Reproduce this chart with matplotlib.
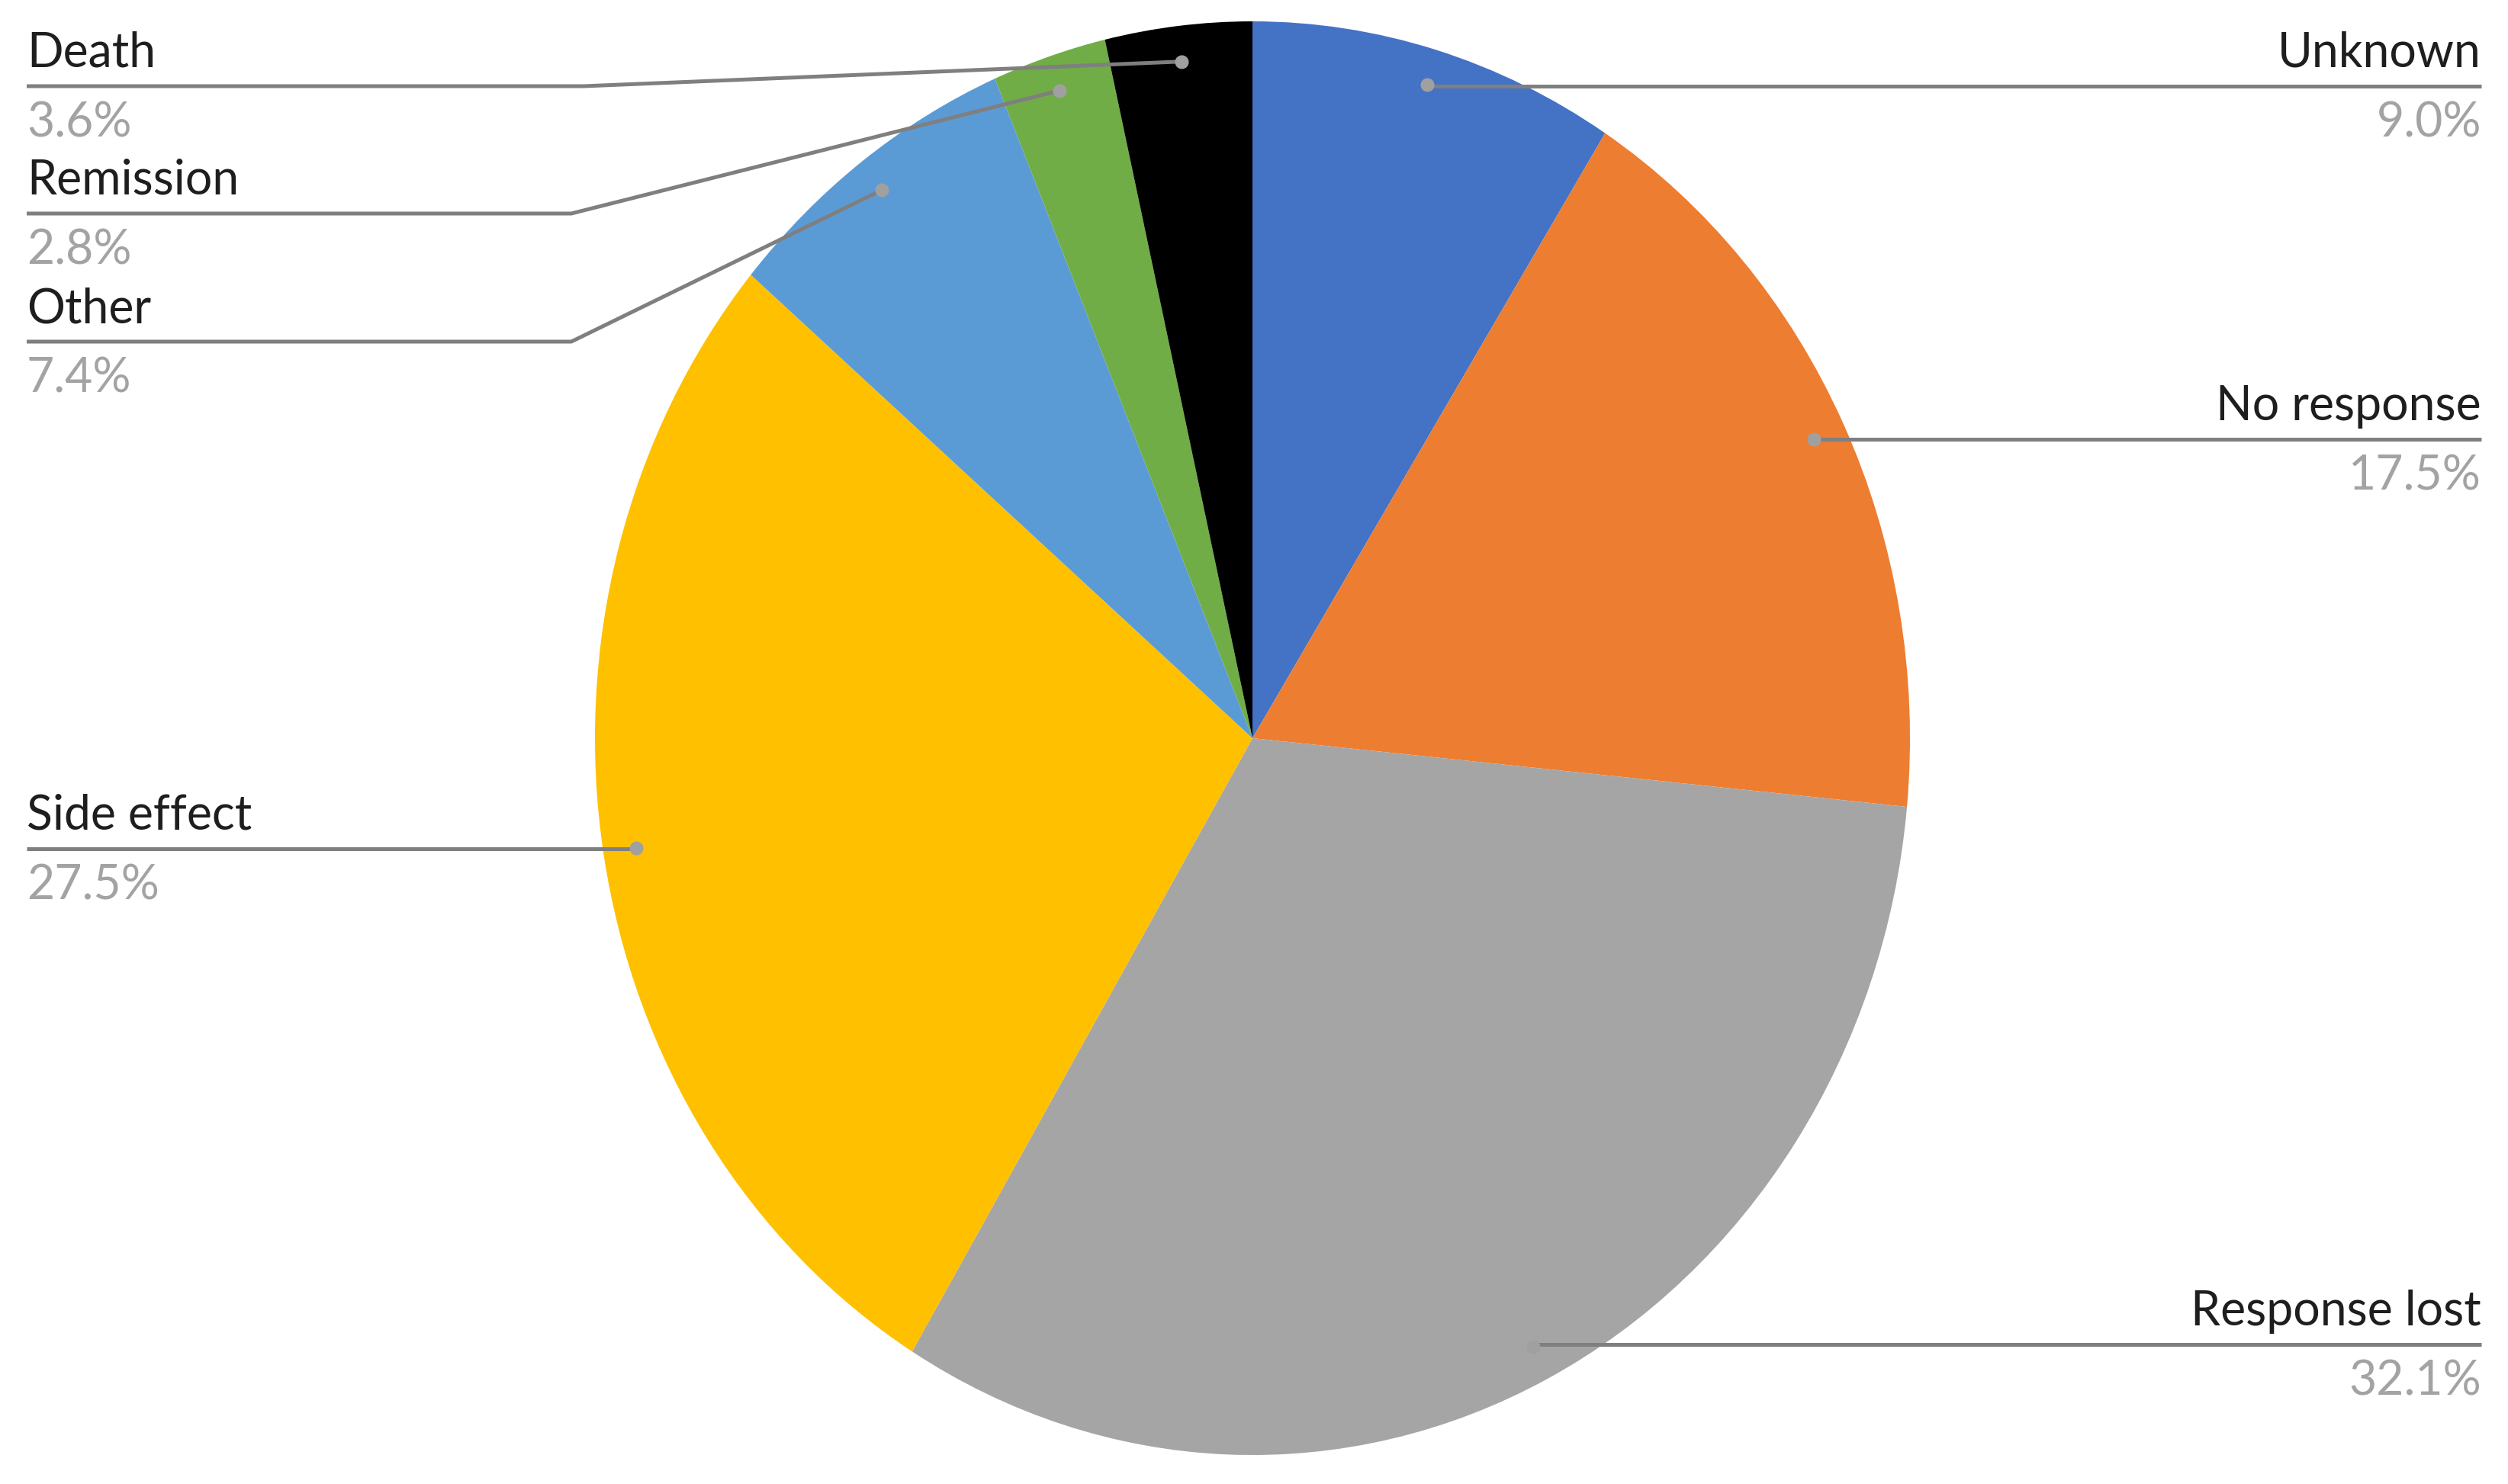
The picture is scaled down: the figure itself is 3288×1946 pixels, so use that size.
import numpy as np
import matplotlib
matplotlib.use("Agg")
import matplotlib.pyplot as plt

# ---------------------------------------------------------
# Datos
# ---------------------------------------------------------
categorias = ["Unknown", "No response", "Response lost", "Side effect",
              "Other", "Remission", "Death"]
porcentajes = [9.0, 17.5, 32.1, 27.5, 7.4, 2.8, 3.6]
colores = ["#4472C4", "#ED7D31", "#A5A5A5", "#FFC000",
           "#5B9BD5", "#70AD47", "#000000"]

# ---------------------------------------------------------
# Layout (pixeles de la imagen final 3288x1946)
# ---------------------------------------------------------
W, H = 3288, 1946
cx, cy = 1642, 968      # centro del pastel
rx, ry = 862, 940       # radios (la imagen viene algo estirada)

# lado, altura de la linea guia, x del codo
etiquetas = {
    "Unknown":       ("right", 113, None),
    "No response":   ("right", 576, None),
    "Response lost": ("right", 1763, None),
    "Side effect":   ("left", 1113, None),
    "Other":         ("left", 448, 749),
    "Remission":     ("left", 280, 749),
    "Death":         ("left", 113, 765),
}
x_izq, x_der = 35, 3253

plt.rcParams["font.family"] = ["Lato", "DejaVu Sans"]

fig = plt.figure(figsize=(W / 100, H / 100), dpi=100)
ax = fig.add_axes([0, 0, 1, 1])
ax.axis("off")


def px(x, y):
    return (x - cx) / rx, (cy - y) / ry


wedges, _ = ax.pie(porcentajes, colors=colores, startangle=90,
                   counterclock=False, radius=1, center=(0, 0),
                   wedgeprops=dict(linewidth=0))
ax.set_xlim(-cx / rx, (W - cx) / rx)
ax.set_ylim(-(H - cy) / ry, cy / ry)
ax.set_aspect("auto")

total = sum(porcentajes)
acum = 0.0
for cat, val in zip(categorias, porcentajes):
    medio = (acum + val / 2) / total * 2 * np.pi
    acum += val
    # punto dentro de la rebanada (mismo angulo, 95% del radio)
    dx = 0.95 * np.sin(medio)
    dy = 0.95 * np.cos(medio)
    lado, ly, codo = etiquetas[cat]
    lx_y = (cy - ly) / ry
    borde = px(x_izq if lado == "left" else x_der, ly)[0]
    if codo is not None:
        xs = [dx, (codo - cx) / rx, borde]
        ys = [dy, lx_y, lx_y]
    else:
        xs = [dx, borde]
        ys = [lx_y, lx_y]
    ax.plot(xs, ys, color="#7f7f7f", lw=3.6, solid_capstyle="butt", zorder=3)
    ax.plot([dx], [dy], "o", color="#a0a0a0", ms=12, zorder=4)

    ha = "left" if lado == "left" else "right"
    tx = borde
    ax.text(tx, (cy - (ly - 25)) / ry, cat, ha=ha, va="baseline",
            fontsize=45, color="#1e1e1e")
    ax.text(tx, (cy - (ly + 67)) / ry, f"{val:.1f}%", ha=ha, va="baseline",
            fontsize=45, color="#a3a3a3")

fig.savefig("out.png", dpi=100, facecolor="white")
